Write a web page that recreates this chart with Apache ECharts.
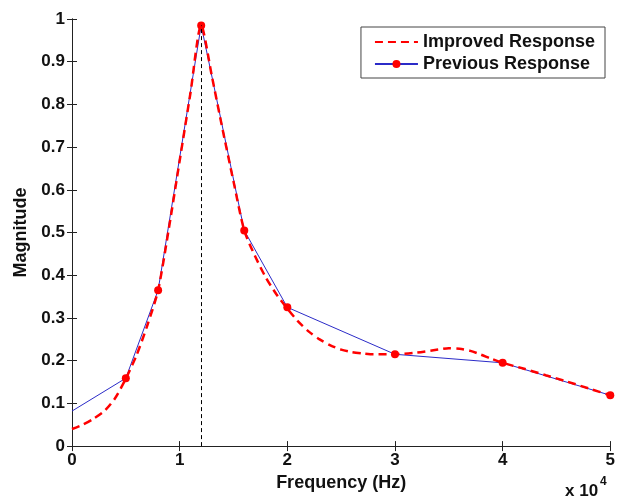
<!DOCTYPE html>
<html>
<head>
<meta charset="utf-8">
<script src="https://cdn.jsdelivr.net/npm/echarts@6/dist/echarts.min.js"></script>
<style>html,body{margin:0;padding:0;background:#fff}#c{width:618px;height:497px}</style>
</head>
<body>
<div id="c"></div>
<script>
// Data (frequency in Hz, magnitude)
const prevFreq = [0, 5000, 8000, 12000, 16000, 20000, 30000, 40000, 50000];
const prevMag  = [0.082, 0.159, 0.365, 0.985, 0.505, 0.325, 0.215, 0.195, 0.119];

const impFreq = [0, 1000, 2000, 3000, 4000, 5000, 6000, 7000, 8000, 9000, 10000, 11000, 12000,
  13000, 14000, 15000, 16000, 17000, 18000, 19000, 20000, 21000, 22000, 23000, 24000, 25000,
  26000, 27000, 28000, 30000, 32000, 34000, 35000, 36000, 37000, 38000, 39000, 40000,
  42000, 44000, 46000, 48000, 50000];
const impMag = [0.04, 0.05, 0.064, 0.082, 0.112, 0.158, 0.213, 0.283, 0.365, 0.51, 0.668, 0.826, 0.985,
  0.865, 0.74, 0.62, 0.505, 0.445, 0.395, 0.355, 0.322, 0.292, 0.268, 0.25, 0.236, 0.226,
  0.22, 0.217, 0.215, 0.215, 0.219, 0.226, 0.229, 0.228, 0.223, 0.214, 0.204, 0.195,
  0.181, 0.166, 0.151, 0.135, 0.119];

const peakFreq = 12000;
const peakMag = 0.985;

const xTicks = ['0', '1', '2', '3', '4', '5'];
const yTicks = ['0', '0.1', '0.2', '0.3', '0.4', '0.5', '0.6', '0.7', '0.8', '0.9', '1'];

const seriesNames = ['Improved Response', 'Previous Response'];

const chart = echarts.init(document.getElementById('c'), null, {renderer: 'canvas'});
const font = 'Liberation Sans, Arial, sans-serif';
const axisLine = {show: true, lineStyle: {color: '#222', width: 1}};

chart.setOption({
  animation: false,
  backgroundColor: '#fff',
  grid: {left: 72, right: 7, top: 19, bottom: 50, containLabel: false},
  legend: {
    right: 13, top: 27,
    orient: 'vertical',
    backgroundColor: '#fff',
    borderColor: '#444', borderWidth: 1,
    padding: [6, 10, 5, 13],
    itemWidth: 43, itemHeight: 10, itemGap: 4, itemTextGap: 4,
    textStyle: {fontFamily: font, fontSize: 18, fontWeight: 'bold', color: '#111'},
    data: [{name: seriesNames[0], itemStyle: {opacity: 0}}, {name: seriesNames[1]}]
  },
  xAxis: [{
    type: 'value', min: 0, max: 50000, interval: 10000,
    name: 'Frequency (Hz)', nameLocation: 'middle', nameGap: 24,
    nameTextStyle: {fontFamily: font, fontSize: 18, fontWeight: 'bold', color: '#111'},
    axisLine: axisLine,
    axisTick: {show: true, inside: true, length: 5, lineStyle: {color: '#222'}},
    axisLabel: {fontFamily: font, fontSize: 17, fontWeight: 'bold', color: '#111', margin: 6,
      formatter: v => xTicks[Math.round(v / 10000)]},
    splitLine: {show: false}
  }, {
    type: 'value', min: 0, max: 50000, interval: 10000, position: 'top',
    axisLine: axisLine,
    axisTick: {show: true, inside: true, length: 5, lineStyle: {color: '#222'}},
    axisLabel: {show: false}, splitLine: {show: false}
  }],
  yAxis: [{
    type: 'value', min: 0, max: 1, interval: 0.1,
    name: 'Magnitude', nameLocation: 'middle', nameGap: 41,
    nameTextStyle: {fontFamily: font, fontSize: 18, fontWeight: 'bold', color: '#111'},
    axisLine: axisLine,
    axisTick: {show: true, inside: true, length: 5, lineStyle: {color: '#222'}},
    axisLabel: {fontFamily: font, fontSize: 17, fontWeight: 'bold', color: '#111', margin: 7,
      formatter: v => yTicks[Math.round(v * 10)]},
    splitLine: {show: false}
  }, {
    type: 'value', min: 0, max: 1, interval: 0.1, position: 'right',
    axisLine: axisLine,
    axisTick: {show: true, inside: true, length: 5, lineStyle: {color: '#222'}},
    axisLabel: {show: false}, splitLine: {show: false}
  }],
  series: [{
    name: seriesNames[1],
    type: 'line',
    z: 2,
    data: prevFreq.map((f, i) => i === 0 ? {value: [f, prevMag[i]], symbol: 'none'} : [f, prevMag[i]]),
    symbol: 'circle', symbolSize: 8,
    showAllSymbol: true,
    itemStyle: {color: '#ff0000'},
    lineStyle: {color: '#2b2bc8', width: 1},
    markLine: {
      silent: true, symbol: 'none', label: {show: false},
      lineStyle: {color: '#000', type: [4, 3], width: 1},
      data: [[{coord: [peakFreq, 0]}, {coord: [peakFreq, peakMag]}]]
    }
  }, {
    name: seriesNames[0],
    type: 'line',
    z: 3,
    data: impFreq.map((f, i) => [f, impMag[i]]),
    smooth: 0.25,
    symbol: 'none',
    itemStyle: {color: '#ff0000'},
    lineStyle: {color: '#ff0000', width: 2.5, type: [8, 5]}
  }],
  graphic: [{
    type: 'text', left: 565, top: 483,
    style: {text: 'x 10', fontFamily: font, fontSize: 17, fontWeight: 'bold', fill: '#111'}
  }, {
    type: 'text', left: 600, top: 476,
    style: {text: '4', fontFamily: font, fontSize: 12, fontWeight: 'bold', fill: '#111'}
  }]
});
</script>
</body>
</html>
